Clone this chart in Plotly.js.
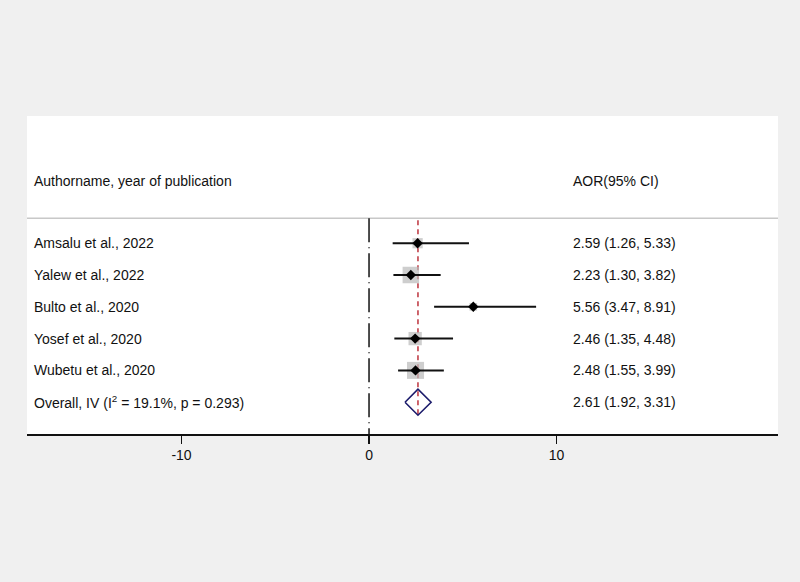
<!DOCTYPE html>
<html>
<head>
<meta charset="utf-8">
<script src="https://cdn.plot.ly/plotly-3.0.1.min.js"></script>
<style>html,body{margin:0;padding:0;background:#f0f0f0;}#chart{width:800px;height:582px;}</style>
</head>
<body>
<div id="chart"></div>
<script>
const studies = ["Amsalu et al., 2022", "Yalew et al., 2022", "Bulto et al., 2020", "Yosef et al., 2020", "Wubetu et al., 2020"];
const aor = [2.59, 2.23, 5.56, 2.46, 2.48];
const lower = [1.26, 1.30, 3.47, 1.35, 1.55];
const upper = [5.33, 3.82, 8.91, 4.48, 3.99];
const weights = [11.6, 30.2, 6.5, 19.6, 32.2];
const overallLabel = "Overall, IV (I<sup>2</sup> = 19.1%, p = 0.293)";
const overall = {est: 2.61, lo: 1.92, hi: 3.31};
const headerLeft = "Authorname, year of publication";
const headerRight = "AOR(95% CI)";
const tickVals = [-10, 0, 10];

const fmt = v => v.toFixed(2);
const rows = studies.map((s, i) => i);
const overallRow = studies.length;

// CI lines
const ciX = [], ciY = [];
rows.forEach(i => { ciX.push(lower[i], upper[i], null); ciY.push(i, i, null); });

const traces = [
  {type: 'scatter', mode: 'markers', x: aor, y: rows,
   marker: {symbol: 'square', color: '#b9b9b9', size: weights.map(w => 3.0 * Math.sqrt(w)), line: {width: 0}},
   hoverinfo: 'skip'},
  {type: 'scatter', mode: 'lines', x: ciX, y: ciY,
   line: {color: '#111', width: 2}, hoverinfo: 'skip'},
  {type: 'scatter', mode: 'markers', x: aor, y: rows,
   marker: {symbol: 'diamond', color: '#000', size: 8}, hoverinfo: 'skip'},
  {type: 'scatter', mode: 'lines',
   x: [overall.lo, overall.est, overall.hi, overall.est, overall.lo],
   y: [overallRow, overallRow - 0.41, overallRow, overallRow + 0.41, overallRow],
   line: {color: '#1b1b6b', width: 1.6}, hoverinfo: 'skip'}
];

const annotations = [];
const font = {family: 'Liberation Sans, Arial, sans-serif', size: 14, color: '#111'};
annotations.push({xref: 'paper', yref: 'y', x: 0.0067, y: -1.95, text: headerLeft, showarrow: false, xanchor: 'left', yanchor: 'middle', font});
annotations.push({xref: 'paper', yref: 'y', x: 0.7244, y: -1.95, text: headerRight, showarrow: false, xanchor: 'left', yanchor: 'middle', font});
rows.forEach(i => {
  annotations.push({xref: 'paper', yref: 'y', x: 0.0067, y: i, text: studies[i], showarrow: false, xanchor: 'left', yanchor: 'middle', font});
  annotations.push({xref: 'paper', yref: 'y', x: 0.7244, y: i, text: fmt(aor[i]) + ' (' + fmt(lower[i]) + ', ' + fmt(upper[i]) + ')', showarrow: false, xanchor: 'left', yanchor: 'middle', font});
});
annotations.push({xref: 'paper', yref: 'y', x: 0.0067, y: overallRow, text: overallLabel, showarrow: false, xanchor: 'left', yanchor: 'middle', font});
annotations.push({xref: 'paper', yref: 'y', x: 0.7244, y: overallRow, text: fmt(overall.est) + ' (' + fmt(overall.lo) + ', ' + fmt(overall.hi) + ')', showarrow: false, xanchor: 'left', yanchor: 'middle', font});

const shapes = [
  {type: 'line', xref: 'paper', yref: 'y', x0: 0, x1: 1, y0: -0.786, y1: -0.786, line: {color: '#c8c8c8', width: 1.5}, layer: 'below'},
  {type: 'line', xref: 'x', yref: 'y', x0: 0, x1: 0, y0: -0.786, y1: 6.0, line: {color: '#222', width: 1.6, dash: '24px,5px,1px,5px'}, layer: 'below'},
  {type: 'line', xref: 'x', yref: 'y', x0: overall.est, x1: overall.est, y0: -0.72, y1: 5.47, line: {color: '#b8242f', width: 1.4, dash: '5px,4px'}, layer: 'below'}
];

const layout = {
  width: 800, height: 582,
  paper_bgcolor: '#f0f0f0', plot_bgcolor: '#ffffff',
  margin: {l: 27, r: 22, t: 116, b: 148, pad: 0},
  showlegend: false,
  font,
  xaxis: {range: [-18.24, 21.81], tickvals: tickVals, ticktext: tickVals.map(String),
          showgrid: false, zeroline: false, showline: true, linecolor: '#111', linewidth: 1.5,
          ticks: 'outside', ticklen: 8, tickwidth: 1.5, tickcolor: '#111',
          tickfont: font, fixedrange: true},
  yaxis: {range: [6.0, -4.0], visible: false, showgrid: false, zeroline: false, fixedrange: true},
  annotations, shapes
};

Plotly.newPlot('chart', traces, layout, {displayModeBar: false, staticPlot: true});
</script>
</body>
</html>
